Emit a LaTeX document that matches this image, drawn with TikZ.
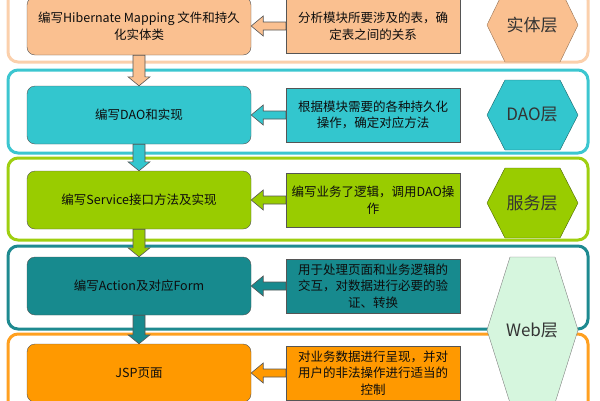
\documentclass[tikz,border=0pt]{standalone}
\usepackage{fontspec}
\setmainfont{Noto Sans CJK SC}
\usetikzlibrary{calc}

\definecolor{peachfill}{HTML}{FAC090}
\definecolor{peachline}{HTML}{FBD0AC}
\definecolor{cyanfill}{HTML}{33C6CE}
\definecolor{cyanline}{HTML}{3CC6D0}
\definecolor{greenfill}{HTML}{99CC00}
\definecolor{greenline}{HTML}{9FCF10}
\definecolor{tealfill}{HTML}{178A8E}
\definecolor{tealline}{HTML}{1E8A90}
\definecolor{orangefill}{HTML}{FF9900}
\definecolor{orangeline}{HTML}{FFA020}
\definecolor{webfill}{HTML}{D6F6DE}
\definecolor{boxline}{HTML}{555555}

\begin{document}
\begin{tikzpicture}[x=1pt,y=1pt,
    band/.style={line width=3pt,rounded corners=10pt},
    leftbox/.style={draw=boxline,rounded corners=8pt,minimum width=224pt,
      minimum height=58pt,align=center,font=\fontsize{12.5}{16.5}\selectfont,text=black!95},
    rightbox/.style={draw=boxline,minimum width=174pt,minimum height=54pt,
      align=center,font=\fontsize{12.5}{16.5}\selectfont,text=black!95},
    hexlabel/.style={font=\fontsize{17}{20}\selectfont,text=black!80},
    blockarrow/.style={draw=boxline,line width=0.6pt}]

    \useasboundingbox (0,0) rectangle (600,-400);
    \clip (0,0) rectangle (600,-400);

    % layer bands
    \draw[band,draw=peachline] (8,10) rectangle (588,-62);
    \draw[band,draw=cyanline] (8,-70) rectangle (588,-153);
    \draw[band,draw=greenline] (8,-158) rectangle (588,-240);
    \draw[band,draw=tealline] (8,-246) rectangle (588,-329);
    \draw[band,draw=orangeline] (8,-334) rectangle (588,-420);

    % steps
    \node[leftbox,fill=peachfill] (l1) at (139,-26) {编写Hibernate Mapping 文件和持久\\化实体类};
    \node[leftbox,fill=cyanfill] (l2) at (139,-115) {编写DAO和实现};
    \node[leftbox,fill=greenfill] (l3) at (139,-200) {编写Service接口方法及实现};
    \node[leftbox,fill=tealfill] (l4) at (139,-286) {编写Action及对应Form};
    \node[leftbox,fill=orangefill] (l5) at (139,-373) {JSP页面};

    \node[rightbox,fill=peachfill] (r1) at (373,-26) {分析模块所要涉及的表，确\\定表之间的关系};
    \node[rightbox,fill=cyanfill] (r2) at (373,-115) {根据模块需要的各种持久化\\操作，确定对应方法};
    \node[rightbox,fill=greenfill] (r3) at (373,-200) {编写业务了逻辑，调用DAO操\\作};
    \node[rightbox,fill=tealfill] (r4) at (373,-286) {用于处理页面和业务逻辑的\\交互，对数据进行必要的验\\证、转换};
    \node[rightbox,fill=orangefill] (r5) at (373,-373) {对业务数据进行呈现，并对\\用户的非法操作进行适当的\\控制};

    % layer names
    \draw[draw=peachfill!60!black,fill=peachfill] (487,-25) -- (505,12) -- (560,12) -- (578,-25) -- (560,-62) -- (505,-62) -- cycle;
    \node[hexlabel] (h1) at (532,-25) {实体层};
    \draw[draw=cyanfill!50!black,fill=cyanfill] (487,-115) -- (505,-80) -- (560,-80) -- (578,-115) -- (560,-150) -- (505,-150) -- cycle;
    \node[hexlabel] (h2) at (532,-115) {DAO层};
    \draw[draw=greenfill!50!black,fill=greenfill] (487,-203) -- (505,-168) -- (560,-168) -- (578,-203) -- (560,-238) -- (505,-238) -- cycle;
    \node[hexlabel] (h3) at (532,-203) {服务层};
    \draw[draw=black!50,fill=webfill] (487,-330) -- (510,-257) -- (555,-257) -- (578,-330) -- (555,-403) -- (510,-403) -- cycle;
    \node[hexlabel] (h4) at (532,-330) {Web层};

    % down arrows
    \draw[blockarrow,fill=peachfill] ($(l1.south)+(-6,0)$) -- ($(l2.north)+(-6,9)$) -- ($(l2.north)+(-11,9)$) -- (l2.north)
      -- ($(l2.north)+(11,9)$) -- ($(l2.north)+(6,9)$) -- ($(l1.south)+(6,0)$) -- cycle;
    \draw[blockarrow,fill=cyanfill] ($(l2.south)+(-6,0)$) -- ($(l3.north)+(-6,9)$) -- ($(l3.north)+(-11,9)$) -- (l3.north)
      -- ($(l3.north)+(11,9)$) -- ($(l3.north)+(6,9)$) -- ($(l2.south)+(6,0)$) -- cycle;
    \draw[blockarrow,fill=greenfill] ($(l3.south)+(-6,0)$) -- ($(l4.north)+(-6,9)$) -- ($(l4.north)+(-11,9)$) -- (l4.north)
      -- ($(l4.north)+(11,9)$) -- ($(l4.north)+(6,9)$) -- ($(l3.south)+(6,0)$) -- cycle;
    \draw[blockarrow,fill=tealfill] ($(l4.south)+(-6,0)$) -- ($(l5.north)+(-6,9)$) -- ($(l5.north)+(-11,9)$) -- (l5.north)
      -- ($(l5.north)+(11,9)$) -- ($(l5.north)+(6,9)$) -- ($(l4.south)+(6,0)$) -- cycle;

    % left arrows
    \foreach \i/\c in {1/peachfill,2/cyanfill,3/greenfill,4/tealfill,5/orangefill}
      \draw[blockarrow,fill=\c] ($(r\i.west)+(0,4)$) -- ($(l\i.east)+(12,4)$) -- ($(l\i.east)+(12,10)$) -- (l\i.east)
        -- ($(l\i.east)+(12,-10)$) -- ($(l\i.east)+(12,-4)$) -- ($(r\i.west)+(0,-4)$) -- cycle;

\end{tikzpicture}
\end{document}
